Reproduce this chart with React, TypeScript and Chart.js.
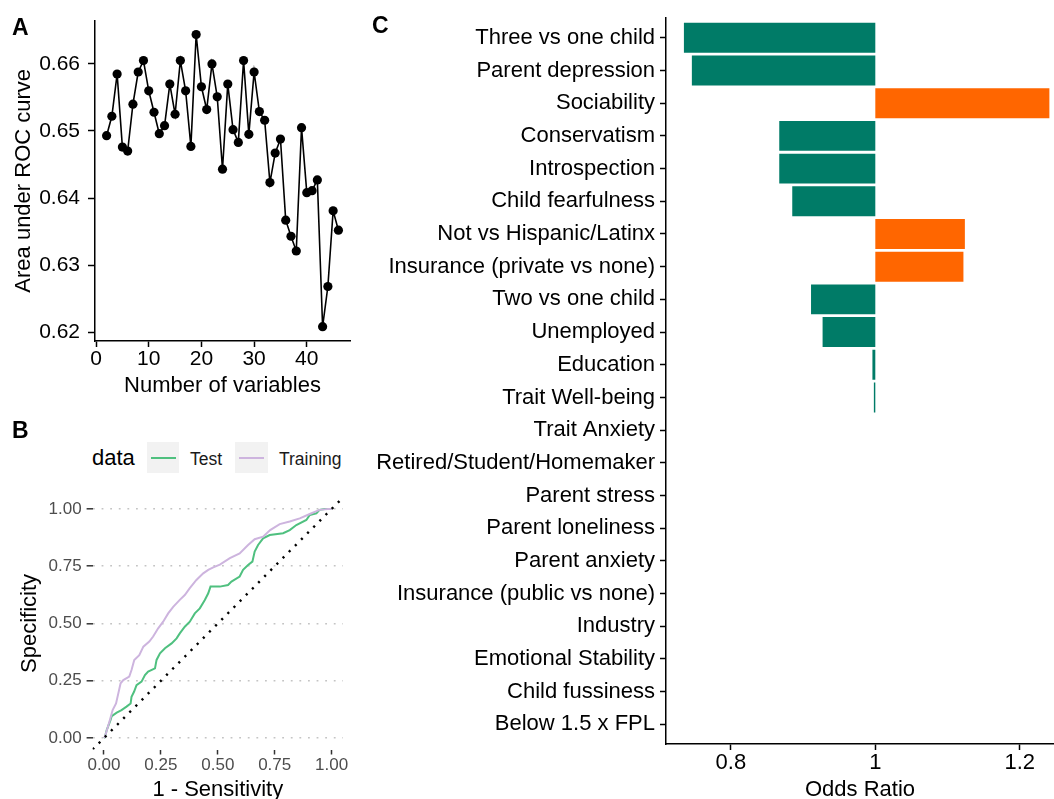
import React, { useEffect, useRef } from "react";
import { Chart, registerables } from "chart.js";

Chart.register(...registerables);

const FONT = "'Liberation Sans', Arial, Helvetica, sans-serif";

// ---------- Panel A data ----------
const numVariables = [2, 3, 4, 5, 6, 7, 8, 9, 10, 11, 12, 13, 14, 15, 16, 17, 18, 19, 20, 21, 22, 23, 24, 25, 26, 27, 28, 29, 30, 31, 32, 33, 34, 35, 36, 37, 38, 39, 40, 41, 42, 43, 44, 45, 46];
const aucValues = [
  0.6493, 0.6522, 0.6585, 0.6476, 0.647, 0.654, 0.6588, 0.6605, 0.656, 0.6528,
  0.6496, 0.6508, 0.657, 0.6525, 0.6605, 0.656, 0.6477, 0.6644, 0.6566, 0.6532,
  0.66, 0.6551, 0.6443, 0.657, 0.6502, 0.6483, 0.6605, 0.6495, 0.6588, 0.6529,
  0.6516, 0.6423, 0.6467, 0.6488, 0.6367, 0.6343, 0.6321, 0.6505, 0.6408, 0.6411,
  0.6427, 0.6208, 0.6268, 0.6381, 0.6352,
];
const aucYTicks = [0.62, 0.63, 0.64, 0.65, 0.66];
const aucXTicks = [0, 10, 20, 30, 40];

// ---------- Panel B data ----------
const trainFpr = [0, 0.004, 0.015, 0.026, 0.038, 0.053, 0.063, 0.073, 0.085, 0.111, 0.121, 0.133, 0.155, 0.173, 0.199, 0.216, 0.238, 0.26, 0.282, 0.304, 0.333, 0.355, 0.377, 0.406, 0.436, 0.458, 0.48, 0.509, 0.553, 0.596, 0.633, 0.662, 0.699, 0.73, 0.772, 0.816, 0.86, 0.904, 0.947, 0.984, 1];
const trainTpr = [0, 0.006, 0.042, 0.079, 0.122, 0.151, 0.195, 0.239, 0.253, 0.268, 0.297, 0.341, 0.362, 0.399, 0.421, 0.443, 0.479, 0.508, 0.544, 0.573, 0.603, 0.624, 0.654, 0.69, 0.719, 0.734, 0.745, 0.757, 0.785, 0.806, 0.843, 0.868, 0.879, 0.908, 0.934, 0.945, 0.959, 0.978, 0.996, 1, 1];
const testFpr = [0, 0.004, 0.012, 0.029, 0.034, 0.056, 0.077, 0.099, 0.117, 0.121, 0.132, 0.143, 0.165, 0.18, 0.194, 0.224, 0.231, 0.246, 0.268, 0.297, 0.319, 0.333, 0.355, 0.377, 0.399, 0.421, 0.443, 0.458, 0.468, 0.509, 0.545, 0.56, 0.596, 0.611, 0.633, 0.652, 0.662, 0.677, 0.699, 0.728, 0.787, 0.816, 0.845, 0.889, 0.904, 0.933, 0.947, 0.969, 1];
const testTpr = [0, 0.003, 0.035, 0.079, 0.096, 0.111, 0.122, 0.137, 0.151, 0.18, 0.202, 0.231, 0.246, 0.275, 0.29, 0.304, 0.341, 0.37, 0.392, 0.413, 0.435, 0.457, 0.486, 0.508, 0.544, 0.566, 0.603, 0.632, 0.661, 0.661, 0.668, 0.683, 0.705, 0.734, 0.755, 0.77, 0.814, 0.843, 0.872, 0.886, 0.894, 0.908, 0.93, 0.952, 0.974, 0.981, 0.996, 1, 1];
const diagX = [-0.05, 1.05];
const diagY = [-0.05, 1.05];
const rocTicks = [0, 0.25, 0.5, 0.75, 1];
const rocSeries = ["Test", "Training"];

// ---------- Panel C data ----------
const predictors = [
  "Three vs one child",
  "Parent depression",
  "Sociability",
  "Conservatism",
  "Introspection",
  "Child fearfulness",
  "Not vs Hispanic/Latinx",
  "Insurance (private vs none)",
  "Two vs one child",
  "Unemployed",
  "Education",
  "Trait Well-being",
  "Trait Anxiety",
  "Retired/Student/Homemaker",
  "Parent stress",
  "Parent loneliness",
  "Parent anxiety",
  "Insurance (public vs none)",
  "Industry",
  "Emotional Stability",
  "Child fussiness",
  "Below 1.5 x FPL",
];
const oddsRatios = [
  0.735, 0.746, 1.241, 0.867, 0.867, 0.885, 1.124, 1.122, 0.911, 0.927,
  0.996, 0.998, 1, 1, 1, 1, 1, 1, 1, 1, 1, 1,
];
const orTicks = [0.8, 1, 1.2];

const TEAL = "#007B67";
const ORANGE = "#FF6600";
const GREEN = "#4FC07F";
const PURPLE = "#CDB4DE";

function useChart(ref: React.RefObject<HTMLCanvasElement>, makeConfig: () => any) {
  useEffect(() => {
    if (!ref.current) return;
    const chart = new Chart(ref.current, makeConfig());
    return () => chart.destroy();
  }, []);
}

const setTicks = (vals: number[]) => (s: any) => {
  s.ticks = vals.map((v) => ({ value: v }));
};

export default function App() {
  const refA = useRef<HTMLCanvasElement>(null);
  const refB = useRef<HTMLCanvasElement>(null);
  const refC = useRef<HTMLCanvasElement>(null);

  Chart.defaults.font.family = FONT;
  Chart.defaults.color = "#000";

  useChart(refA, () => ({
    type: "line",
    data: {
      datasets: [
        {
          data: numVariables.map((x, i) => ({ x, y: aucValues[i] })),
          borderColor: "#000",
          backgroundColor: "#000",
          borderWidth: 1.6,
          pointRadius: 4.6,
          pointBorderWidth: 0,
          tension: 0,
        },
      ],
    },
    options: {
      responsive: false,
      animation: false,
      layout: { padding: { top: 18, right: 10, left: 0, bottom: 0 } },
      plugins: { legend: { display: false }, tooltip: { enabled: false } },
      scales: {
        x: {
          type: "linear",
          min: -0.2,
          max: 48.2,
          afterBuildTicks: setTicks(aucXTicks),
          afterFit: (s: any) => { s.height = 59; },
          grid: { drawOnChartArea: false, drawTicks: true, tickLength: 6, tickColor: "#000", tickWidth: 1.5 },
          border: { display: true, color: "#000", width: 1.5 },
          ticks: { font: { size: 21 }, color: "#000", padding: 0, maxRotation: 0, autoSkip: false, callback: (v: number) => String(v) },
          title: { display: true, text: "Number of variables", font: { size: 22 }, color: "#000", padding: { top: 0, bottom: 1 } },
        },
        y: {
          type: "linear",
          min: 0.61867,
          max: 0.66647,
          afterBuildTicks: setTicks(aucYTicks),
          afterFit: (s: any) => { s.width = 95; },
          grid: { drawOnChartArea: false, drawTicks: true, tickLength: 7, tickColor: "#000", tickWidth: 1.5 },
          border: { display: true, color: "#000", width: 1.5 },
          ticks: { font: { size: 21 }, color: "#000", padding: 8, autoSkip: false, callback: (v: number) => v.toFixed(2) },
          title: { display: true, text: "Area under ROC curve", font: { size: 22 }, color: "#000", padding: { top: 11, bottom: 0 } },
        },
      },
    },
  }));

  useChart(refB, () => ({
    type: "line",
    data: {
      datasets: [
        {
          label: "diag",
          data: diagX.map((x, i) => ({ x, y: diagY[i] })),
          borderColor: "#000",
          borderWidth: 2.4,
          borderDash: [2.2, 6.5],
          pointRadius: 0,
        },
        {
          label: rocSeries[1],
          data: trainFpr.map((x, i) => ({ x, y: trainTpr[i] })),
          borderColor: PURPLE,
          borderWidth: 2,
          pointRadius: 0,
          tension: 0,
        },
        {
          label: rocSeries[0],
          data: testFpr.map((x, i) => ({ x, y: testTpr[i] })),
          borderColor: GREEN,
          borderWidth: 2,
          pointRadius: 0,
          tension: 0,
        },
      ],
    },
    options: {
      responsive: false,
      animation: false,
      layout: { padding: { top: 17.5, right: 17, left: 0, bottom: 0 } },
      plugins: { legend: { display: false }, tooltip: { enabled: false } },
      scales: {
        x: {
          type: "linear",
          min: -0.05,
          max: 1.05,
          afterBuildTicks: setTicks(rocTicks),
          afterFit: (s: any) => { s.height = 49.5; },
          grid: { drawOnChartArea: false, drawTicks: true, tickLength: 5, tickColor: "#333", tickWidth: 1.5 },
          border: { display: false },
          ticks: { font: { size: 17 }, color: "#4D4D4D", padding: 1, maxRotation: 0, autoSkip: false, callback: (v: number) => v.toFixed(2) },
          title: { display: true, text: "1 - Sensitivity", font: { size: 22, lineHeight: 1 }, color: "#000", padding: { top: 0, bottom: -2 } },
        },
        y: {
          type: "linear",
          min: -0.05,
          max: 1.05,
          afterBuildTicks: setTicks(rocTicks),
          afterFit: (s: any) => { s.width = 92.6; },
          grid: { drawOnChartArea: true, drawTicks: true, tickLength: 6, color: "#C4C4C4", lineWidth: 1.6, tickColor: "#333", tickWidth: 1.5 },
          border: { display: false, dash: [1.8, 6.8] },
          ticks: { font: { size: 17 }, color: "#4D4D4D", padding: 5, autoSkip: false, callback: (v: number) => v.toFixed(2) },
          title: { display: true, text: "Specificity", font: { size: 22 }, color: "#000", padding: { top: 16.8, bottom: 0 } },
        },
      },
    },
  }));

  useChart(refC, () => ({
    type: "bar",
    data: {
      datasets: [
        {
          data: predictors.map((_, i) => ({ y: i, x: [1, oddsRatios[i]] })),
          backgroundColor: oddsRatios.map((v) => (v < 1 ? TEAL : ORANGE)),
          borderWidth: 0,
          barPercentage: 0.915,
          categoryPercentage: 1,
        },
      ],
    },
    options: {
      indexAxis: "y",
      responsive: false,
      animation: false,
      layout: { padding: { top: 18, right: 0, left: 0, bottom: 0 } },
      plugins: { legend: { display: false }, tooltip: { enabled: false } },
      scales: {
        x: {
          type: "linear",
          min: 0.7102,
          max: 1.2474,
          afterBuildTicks: setTicks(orTicks),
          afterFit: (s: any) => { s.height = 55; },
          grid: { drawOnChartArea: false, drawTicks: true, tickLength: 6, tickColor: "#000", tickWidth: 1.5 },
          border: { display: true, color: "#000", width: 1.5 },
          ticks: { font: { size: 22 }, color: "#000", padding: 0, maxRotation: 0, autoSkip: false, callback: (v: number) => String(v) },
          title: { display: true, text: "Odds Ratio", font: { size: 22, lineHeight: 1 }, color: "#000", padding: { top: 0, bottom: -2 } },
        },
        y: {
          type: "linear",
          reverse: true,
          offset: false,
          min: -0.6,
          max: 21.6,
          afterBuildTicks: setTicks(predictors.map((_, i) => i)),
          afterFit: (s: any) => { s.width = 306; },
          grid: { offset: false, drawOnChartArea: false, drawTicks: true, tickLength: 6, tickColor: "#000", tickWidth: 1.5 },
          border: { display: true, color: "#000", width: 1.5 },
          ticks: { font: { size: 22 }, color: "#000", padding: 5, autoSkip: false, callback: (v: number) => predictors[v] ?? "" },
        },
      },
    },
  }));

  const abs = (s: React.CSSProperties): React.CSSProperties => ({ position: "absolute", ...s });
  const panelLabel: React.CSSProperties = { fontFamily: FONT, fontWeight: "bold", fontSize: 23, lineHeight: "23px", color: "#000" };

  return (
    <div style={abs({ left: 0, top: 0, width: 1054, height: 799, overflow: "hidden", background: "#fff", fontFamily: FONT })}>
      <canvas ref={refA} width={360} height={400} style={abs({ left: 0, top: 0, display: "block" })} />
      <canvas ref={refB} width={360} height={319} style={abs({ left: 0, top: 480, display: "block" })} />
      <canvas ref={refC} width={694} height={799} style={abs({ left: 360, top: 0, display: "block" })} />

      <div style={abs({ ...panelLabel, left: 12, top: 16 })}>A</div>
      <div style={abs({ ...panelLabel, left: 12, top: 419 })}>B</div>
      <div style={abs({ ...panelLabel, left: 372, top: 14 })}>C</div>

      {/* Panel B legend */}
      <div style={abs({ left: 92, top: 447, fontSize: 22, lineHeight: "22px", color: "#000" })}>data</div>
      <div style={abs({ left: 147, top: 442, width: 32, height: 31, background: "#F2F2F2" })}>
        <div style={abs({ left: 4, top: 15, width: 25, height: 2, background: GREEN })} />
      </div>
      <div style={abs({ left: 190, top: 450, fontSize: 17.5, lineHeight: "18px", color: "#1A1A1A" })}>{rocSeries[0]}</div>
      <div style={abs({ left: 235, top: 442, width: 33, height: 31, background: "#F2F2F2" })}>
        <div style={abs({ left: 4, top: 15, width: 25, height: 2, background: PURPLE })} />
      </div>
      <div style={abs({ left: 279, top: 450, fontSize: 17.5, lineHeight: "18px", color: "#1A1A1A" })}>{rocSeries[1]}</div>
    </div>
  );
}
